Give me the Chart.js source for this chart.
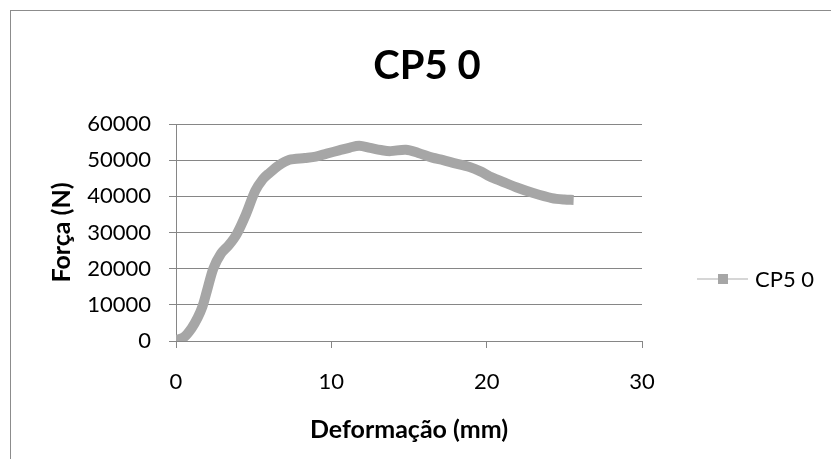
<!DOCTYPE html>
<html>
<head>
<meta charset="utf-8">
<script src="https://cdn.jsdelivr.net/npm/chart.js@4.4.1/dist/chart.umd.min.js"></script>
<style>
  html, body { margin: 0; padding: 0; background: #fff; }
  #wrap { position: relative; width: 831px; height: 459px; }
</style>
</head>
<body>
<div id="wrap"><canvas id="grafico"></canvas></div>
<script>
// Dados (CP5 0)
const titulo = "CP5 0";
const serieNome = "CP5 0";
const deformacao = [0, 0.5, 1.0, 1.4, 1.7, 2.0, 2.4, 2.9, 3.4, 3.9, 4.5, 5.1, 5.6, 6.0, 6.6, 7.3, 8.3, 9.0, 9.7, 10.5, 11.2, 11.8, 12.5, 13.2, 13.8, 14.8, 15.6, 16.5, 17.2, 17.9, 18.9, 19.6, 20.2, 21.0, 21.9, 23.0, 24.2, 25.0, 25.6];
const forca = [300, 1000, 3500, 6500, 9500, 14000, 20000, 24200, 26500, 29500, 35000, 41500, 44800, 46400, 48500, 50100, 50600, 51000, 51800, 52700, 53500, 54000, 53400, 52800, 52500, 52900, 52000, 50700, 50000, 49200, 48100, 46900, 45500, 44100, 42500, 40900, 39500, 39100, 39000];
const ticksX = [0, 10, 20, 30];
const ticksY = [0, 10000, 20000, 30000, 40000, 50000, 60000];

const corLinha = "#a6a6a6";
const corGrade = "#868686";
const fonte = "Lato, 'Open Sans', sans-serif";

const pontos = deformacao.map((x, i) => ({ x: x, y: forca[i] }));

// moldura externa, título e legenda estilo Excel
const molduraLegenda = {
  id: "molduraLegenda",
  afterDraw(chart) {
    const c = chart.ctx;
    c.save();
    c.strokeStyle = "#8c8c8c";
    c.lineWidth = 1;
    c.strokeRect(10.5, 10.5, 1000, 1000);

    // título centrado na área total
    c.fillStyle = "#000";
    c.font = "bold 40px " + fonte;
    c.textAlign = "center";
    c.textBaseline = "middle";
    c.fillText(titulo, 427, 66);

    const ds = chart.data.datasets[0];
    const y = 279;
    c.strokeStyle = "#c8c8c8";
    c.lineWidth = 1.5;
    c.beginPath();
    c.moveTo(697, y);
    c.lineTo(748, y);
    c.stroke();
    c.fillStyle = ds.borderColor;
    c.fillRect(718, y - 5, 10, 10);
    c.fillStyle = "#000";
    c.font = "22px " + fonte;
    c.textAlign = "left";
    c.fillText(ds.label, 755, y + 1);
    c.restore();
  }
};

new Chart(document.getElementById("grafico"), {
  type: "scatter",
  data: {
    datasets: [{
      label: serieNome,
      data: pontos,
      showLine: true,
      borderColor: corLinha,
      backgroundColor: corLinha,
      borderWidth: 10,
      pointRadius: 0,
      pointHoverRadius: 0,
      tension: 0.3
    }]
  },
  options: {
    responsive: true,
    maintainAspectRatio: false,
    animation: false,
    layout: { padding: { left: 0, right: 189, top: 124, bottom: 0 } },
    plugins: {
      legend: { display: false },
      tooltip: { enabled: false },
      title: { display: false }
    },
    scales: {
      x: {
        type: "linear",
        min: 0,
        max: 30,
        afterBuildTicks: (s) => { s.ticks = ticksX.map(v => ({ value: v })); },
        afterFit: (s) => { s.height = 118; },
        border: { color: corGrade, width: 1 },
        grid: { drawOnChartArea: false, drawTicks: true, tickLength: 7, color: corGrade },
        ticks: { color: "#000", padding: 21, font: { family: fonte, size: 22 }, callback: (v) => String(v) },
        title: {
          display: true,
          text: "Deformação (mm)",
          color: "#000",
          font: { family: fonte, size: 25, weight: "bold", lineHeight: 1.2 },
          padding: { top: 0, bottom: 14 }
        }
      },
      y: {
        type: "linear",
        min: 0,
        max: 60000,
        afterBuildTicks: (s) => { s.ticks = ticksY.map(v => ({ value: v })); },
        afterFit: (s) => { s.width = 176; },
        border: { color: corGrade, width: 1 },
        grid: { drawOnChartArea: true, drawTicks: true, tickLength: 7, color: corGrade },
        ticks: { color: "#000", padding: 18, font: { family: fonte, size: 22 }, callback: (v) => String(v) },
        title: {
          display: true,
          text: "Força (N)",
          color: "#000",
          font: { family: fonte, size: 25, weight: "bold", lineHeight: 1.2 },
          padding: { top: 47, bottom: 0 }
        }
      }
    }
  },
  plugins: [molduraLegenda]
});
</script>
</body>
</html>
